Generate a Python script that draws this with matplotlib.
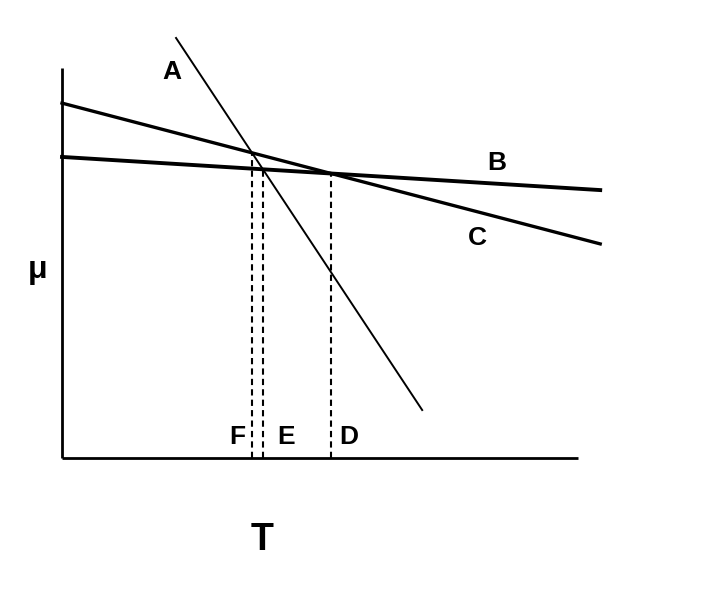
import numpy as np
import matplotlib
matplotlib.use("Agg")
import matplotlib.pyplot as plt

plt.rcParams['font.family'] = ['Liberation Sans', 'DejaVu Sans']

# Lines (T, mu) endpoints
line_names = ["A", "B", "C"]
line_T = {"A": [2.21, 6.98], "B": [0.0, 10.43], "C": [0.0, 10.43]}
line_mu = {"A": [10.77, 1.23], "B": [7.72, 6.87], "C": [9.10, 5.49]}
line_widths = {"A": 1.4, "B": 2.8, "C": 2.4}

label_pos = {"A": (2.13, 9.90), "B": (8.43, 7.56), "C": (8.04, 5.64)}
point_labels = ["F", "E", "D"]
point_pairs = [("A", "C"), ("A", "B"), ("B", "C")]
point_label_T = [3.39, 4.34, 5.56]

fig = plt.figure(figsize=(7.16, 6.11), dpi=100)
ax = fig.add_axes([0, 0, 1, 1])
ax.set_xlim(-1.2016, 12.674)
ax.set_ylim(-3.923, 11.744)
ax.axis("off")

# axes
ax.plot([0, 10], [0, 0], color="black", lw=2.0, solid_capstyle="butt")
ax.plot([0, 0], [0, 10], color="black", lw=2.0, solid_capstyle="butt")

def coef(n):
    t, m = line_T[n], line_mu[n]
    s = (m[1] - m[0]) / (t[1] - t[0])
    return s, m[0] - s * t[0]

for n in line_names:
    ax.plot(line_T[n], line_mu[n], color="black", lw=line_widths[n])
    ax.text(*label_pos[n], n, fontsize=19, fontweight="bold", ha="center", va="center")

for lab, (p, q), lt in zip(point_labels, point_pairs, point_label_T):
    s1, b1 = coef(p)
    s2, b2 = coef(q)
    t = (b2 - b1) / (s1 - s2)
    m = s1 * t + b1
    ax.plot([t, t], [0, m], color="black", lw=1.5, ls=(0, (3, 2)))
    ax.text(lt, 0.55, lab, fontsize=19, fontweight="bold", ha="center", va="center")

ax.text(-0.465, 4.82, "μ", fontsize=23, fontweight="bold", ha="center", va="center")
ax.text(3.88, -2.10, "T", fontsize=27, fontweight="bold", ha="center", va="center")

fig.savefig("out.png", dpi=100)
